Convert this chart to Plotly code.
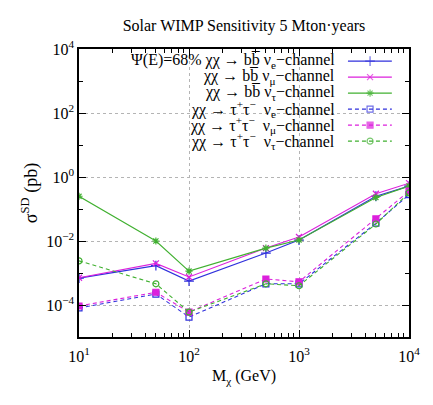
import plotly.graph_objects as go

mass = [10, 50, 100, 500, 1000, 5000, 10000]

bb_nue = [6.9e-4, 1.7e-3, 5.6e-4, 4.2e-3, 1.07e-2, 0.25, 0.52]
bb_numu = [7.1e-4, 2.0e-3, 7.5e-4, 6.0e-3, 1.33e-2, 0.30, 0.64]
bb_nutau = [0.25, 1.0e-2, 1.15e-3, 6.0e-3, 1.07e-2, 0.23, 0.52]
tt_nue = [8.1e-5, 2.2e-4, 4.2e-5, 4.6e-4, 4.6e-4, 3.6e-2, 0.28]
tt_numu = [9.3e-5, 2.5e-4, 6.0e-5, 6.5e-4, 5.3e-4, 4.9e-2, 0.36]
tt_nutau = [2.4e-3, 4.6e-4, 6.0e-5, 4.6e-4, 4.0e-4, 3.4e-2, 0.32]

x_ticks = [10, 100, 1000, 10000]
x_ticktext = ["10<sup>1</sup>", "10<sup>2</sup>", "10<sup>3</sup>", "10<sup>4</sup>"]
y_ticks = [1e4, 1e2, 1, 1e-2, 1e-4]
y_ticktext = ["10<sup>4</sup>", "10<sup>2</sup>", "10<sup>0</sup>", "10<sup>−2</sup>", "10<sup>−4</sup>"]

labels = [
    "Ψ(E)=68% χχ → bb̅ ν<sub>e</sub>−channel",
    "χχ → bb̅ ν<sub>μ</sub>−channel",
    "χχ → bb̅ ν<sub>τ</sub>−channel",
    "χχ → τ<sup>+</sup>τ<sup>−</sup>  ν<sub>e</sub>−channel",
    "χχ → τ<sup>+</sup>τ<sup>−</sup>  ν<sub>μ</sub>−channel",
    "χχ → τ<sup>+</sup>τ<sup>−</sup>  ν<sub>τ</sub>−channel",
]

BLUE = "#3030dc"
MAGENTA = "#dc20dc"
GREEN = "#40b030"
DASH = "4px,3px"

series = [
    (bb_nue, BLUE, "solid", "cross-thin-open", 7),
    (bb_numu, MAGENTA, "solid", "x-thin-open", 6),
    (bb_nutau, GREEN, "solid", "asterisk-open", 6),
    (tt_nue, BLUE, DASH, "square-open", 6),
    (tt_numu, MAGENTA, DASH, "square", 6),
    (tt_nutau, GREEN, DASH, "circle-open", 6),
]

FONT = "Liberation Serif, Times New Roman, serif"

fig = go.Figure()

for (vals, color, dash, symbol, size), name in zip(series, labels):
    fig.add_trace(go.Scatter(
        x=mass, y=vals, mode="lines+markers", name=name,
        line=dict(color=color, width=1.1, dash=dash),
        marker=dict(symbol=symbol, size=size, color=color,
                    line=dict(color=color, width=1.2)),
        showlegend=False,
    ))

# opaque key box: hides the grid behind the key
fig.add_shape(
    type="rect", xref="paper", yref="paper", x0=0, x1=1, y0=0.649, y1=1,
    fillcolor="white", line=dict(width=0), layer="between",
)

# custom key: text right-aligned to the left of the sample, gnuplot style
row_top = 0.958
row_step = 0.0556
for i, ((vals, color, dash, symbol, size), name) in enumerate(zip(series, labels)):
    yk = row_top - i * row_step
    fig.add_trace(go.Scatter(
        x=[0.815, 0.882, 0.948], y=[yk, yk, yk],
        xaxis="x2", yaxis="y2", mode="lines+markers",
        line=dict(color=color, width=1.1, dash=dash),
        marker=dict(symbol=symbol, size=[0, size, 0], color=color,
                    line=dict(color=color, width=1.2)),
        showlegend=False, hoverinfo="skip",
    ))
    fig.add_annotation(
        x=0.782, y=yk, xref="paper", yref="paper", text=name, showarrow=False,
        xanchor="right", yanchor="middle", font=dict(size=16, color="black"),
    )

axis_common = dict(
    type="log", showline=True, linecolor="black", linewidth=1.5, mirror="ticks",
    ticks="inside", ticklen=7, tickcolor="black",
    showgrid=True, gridcolor="#b4b4b4", griddash="dot", gridwidth=1,
    zeroline=False, tickfont=dict(size=16, color="black"),
)

# the page body adds an 8px offset, margins are shifted to compensate
fig.update_layout(
    width=433, height=405,
    margin=dict(l=71, r=32, t=41, b=76),
    paper_bgcolor="white", plot_bgcolor="white",
    font=dict(family=FONT, color="black"),
    title=dict(text="Solar WIMP Sensitivity 5 Mton·years", x=0.545, y=0.957,
               xanchor="center", yanchor="middle", font=dict(size=16)),
    xaxis=dict(
        axis_common, range=[1, 4], tickvals=x_ticks, ticktext=x_ticktext,
        ticklabelstandoff=4,
        minor=dict(ticks="inside", ticklen=4, dtick="D1", showgrid=False, tickcolor="black"),
        title=dict(text="M<sub>χ</sub> (GeV)", font=dict(size=16), standoff=6),
    ),
    yaxis=dict(
        axis_common, range=[-5, 4], tickvals=y_ticks, ticktext=y_ticktext,
        minor=dict(ticks="inside", ticklen=4, dtick=1, showgrid=False, tickcolor="black"),
        title=dict(text="σ<sup>SD</sup> (pb)", font=dict(size=18), standoff=4),
    ),
    xaxis2=dict(overlaying="x", range=[0, 1], visible=False, fixedrange=True),
    yaxis2=dict(overlaying="y", range=[0, 1], visible=False, fixedrange=True),
)

fig.write_html("out.html")
